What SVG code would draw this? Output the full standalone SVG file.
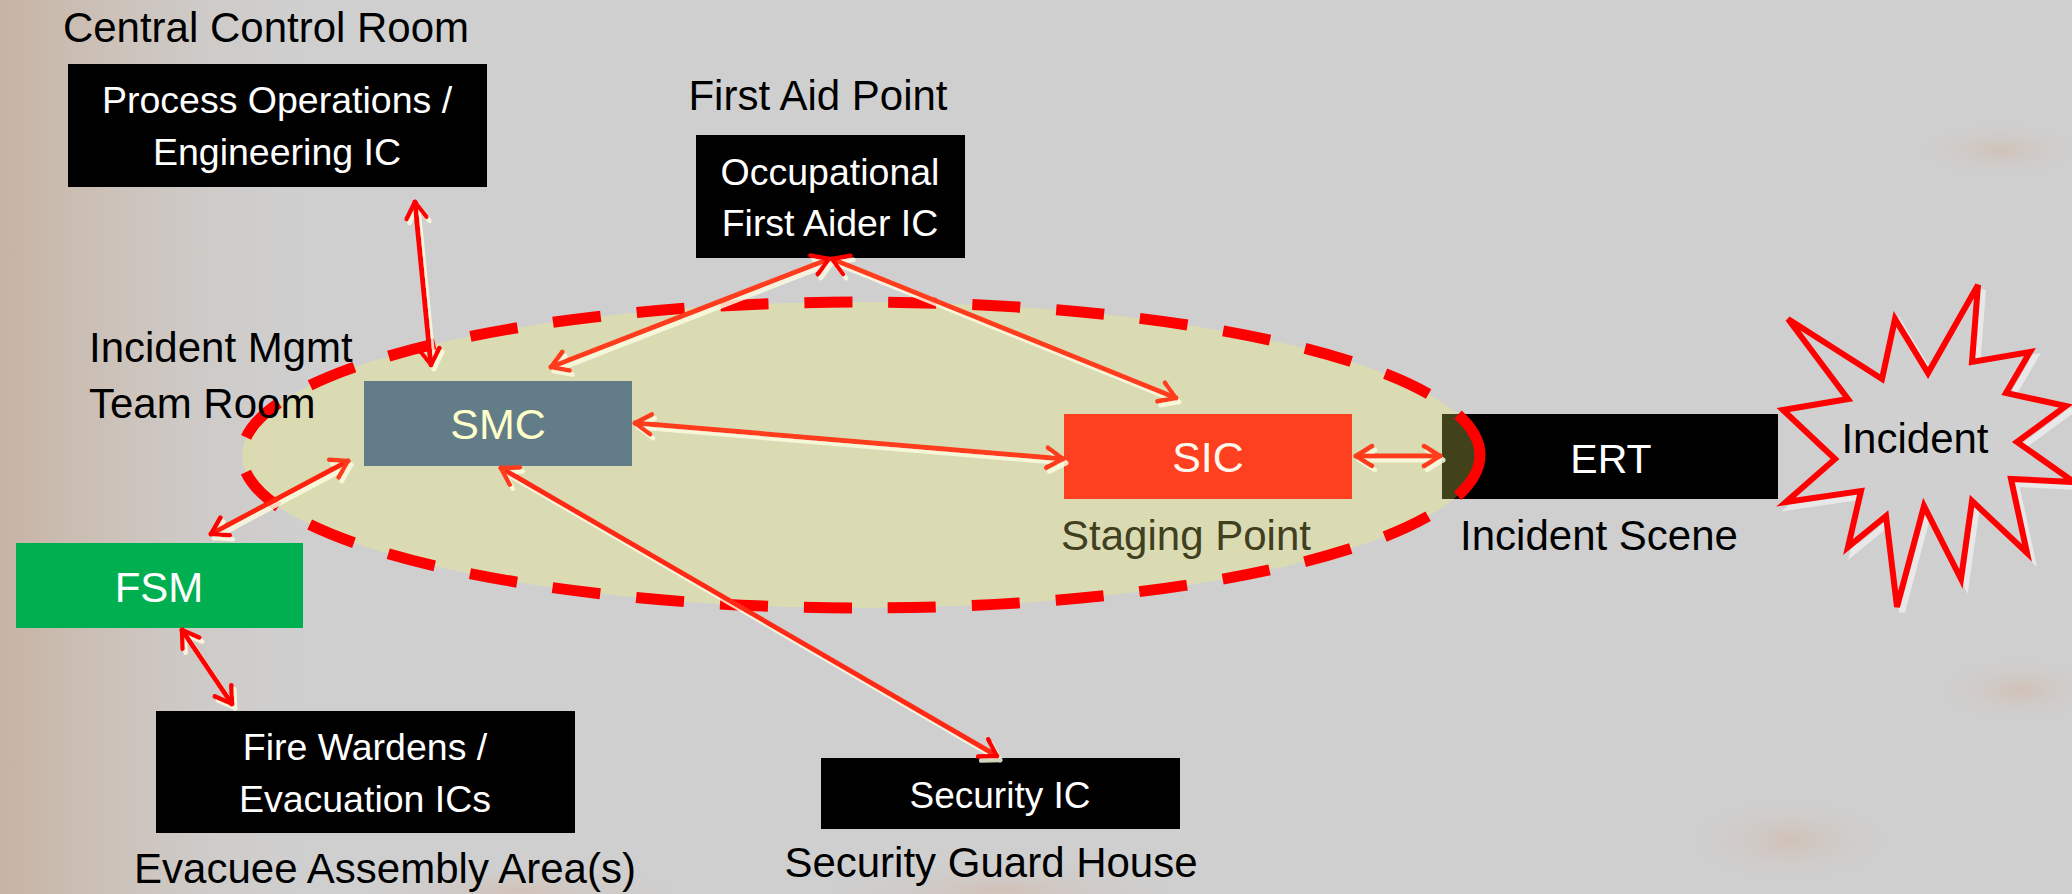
<svg xmlns="http://www.w3.org/2000/svg" width="2072" height="894" viewBox="0 0 2072 894">
<defs>
<style>
.lbl{font-family:"Liberation Sans",Arial,sans-serif;font-size:42px;fill:#000;text-anchor:middle}
.bt{font-family:"Liberation Sans",Arial,sans-serif;font-size:37.5px;fill:#fff;text-anchor:middle}
.big{font-family:"Liberation Sans",Arial,sans-serif;font-size:43px;fill:#fff;text-anchor:middle}
.con{fill:none;stroke-width:5;stroke-linecap:round}
</style>
<linearGradient id="leftFlame" x1="0" y1="0" x2="1" y2="0">
<stop offset="0" stop-color="#b8845a" stop-opacity="0.38"/>
<stop offset="0.45" stop-color="#c49a78" stop-opacity="0.18"/>
<stop offset="1" stop-color="#cfcfcf" stop-opacity="0"/>
</linearGradient>
<radialGradient id="blob" cx="0.5" cy="0.5" r="0.5">
<stop offset="0" stop-color="#d89060" stop-opacity="0.22"/>
<stop offset="1" stop-color="#cfcfcf" stop-opacity="0"/>
</radialGradient>
<marker id="ahR" viewBox="0 0 22 26" refX="19" refY="13" markerWidth="22" markerHeight="26" markerUnits="userSpaceOnUse" orient="auto-start-reverse">
<path d="M3,3 L19,13 L3,23" fill="none" stroke="#ff0000" stroke-width="4.5" stroke-linecap="round" stroke-linejoin="round"/>
</marker>
<marker id="ahO" viewBox="0 0 22 26" refX="19" refY="13" markerWidth="22" markerHeight="26" markerUnits="userSpaceOnUse" orient="auto-start-reverse">
<path d="M3,3 L19,13 L3,23" fill="none" stroke="#ff3c1c" stroke-width="4.5" stroke-linecap="round" stroke-linejoin="round"/>
</marker>
<filter id="sh" x="-10%" y="-10%" width="120%" height="120%">
<feDropShadow dx="3" dy="4" stdDeviation="0.6" flood-color="#fafae0" flood-opacity="0.85"/>
</filter>
</defs>

<g id="background">
<rect x="0" y="0" width="2072" height="894" fill="#cfcfcf"/>
<rect x="0" y="0" width="330" height="894" fill="url(#leftFlame)"/>
<ellipse cx="2000" cy="150" rx="90" ry="30" fill="url(#blob)"/>
<ellipse cx="2020" cy="690" rx="90" ry="35" fill="url(#blob)"/>
<ellipse cx="1790" cy="840" rx="110" ry="45" fill="url(#blob)"/>
<ellipse cx="1000" cy="890" rx="200" ry="30" fill="url(#blob)"/>
<ellipse cx="520" cy="890" rx="180" ry="25" fill="url(#blob)"/>
</g>

<g id="node-ert">
<rect x="1442" y="414" width="336" height="85" fill="#000"/>
<text class="big" x="1611" y="473" style="font-size:41px">ERT</text>
</g>

<g id="zone-ellipse">
<ellipse cx="861" cy="455" rx="619" ry="153" fill="#ffff66" fill-opacity="0.26" stroke="#ff0000" stroke-width="11" stroke-dasharray="48 36"/>
</g>

<g id="label-ccr"><text class="lbl" x="266" y="42">Central Control Room</text></g>
<g id="node-proc">
<rect x="68" y="64" width="419" height="123" fill="#000"/>
<text class="bt" x="277" y="113">Process Operations /</text>
<text class="bt" x="277" y="165">Engineering IC</text>
</g>

<g id="label-fap"><text class="lbl" x="818" y="110">First Aid Point</text></g>
<g id="node-occ">
<rect x="696" y="135" width="269" height="123" fill="#000"/>
<text class="bt" x="830" y="185">Occupational</text>
<text class="bt" x="830" y="236">First Aider IC</text>
</g>

<g id="label-imt">
<text class="lbl" x="89" y="362" style="text-anchor:start">Incident Mgmt</text>
<text class="lbl" x="89" y="418" style="text-anchor:start">Team Room</text>
</g>

<g id="node-smc">
<rect x="364" y="381" width="268" height="85" fill="#637d88"/>
<text class="big" x="498" y="439" style="fill:#ffffcc">SMC</text>
</g>

<g id="node-sic">
<rect x="1064" y="414" width="288" height="85" fill="#ff4020"/>
<text class="big" x="1208" y="472" style="fill:#fff8ee">SIC</text>
<text class="lbl" x="1186" y="550" style="fill:#404020">Staging Point</text>
</g>

<g id="label-scene"><text class="lbl" x="1599" y="550">Incident Scene</text></g>

<g id="node-incident">
<polygon points="1788,319 1882,379 1895,319 1928,373 1978,285 1972,362 2030,352 2006,393 2066,406 2017,442 2074,482 2011,479 2027,553 1972,501 1961,579 1924,506 1897,607 1886,516 1848,547 1861,491 1786,502 1835,459 1783,410 1848,399" transform="translate(5,5)" fill="none" stroke="#e8e8e8" stroke-width="6" stroke-linejoin="miter"/>
<polygon points="1788,319 1882,379 1895,319 1928,373 1978,285 1972,362 2030,352 2006,393 2066,406 2017,442 2074,482 2011,479 2027,553 1972,501 1961,579 1924,506 1897,607 1886,516 1848,547 1861,491 1786,502 1835,459 1783,410 1848,399" fill="#d0d0d0" stroke="#ff0000" stroke-width="6" stroke-linejoin="miter"/>
<text class="lbl" x="1915" y="453">Incident</text>
</g>

<g id="node-fsm">
<rect x="16" y="543" width="287" height="85" fill="#00b050"/>
<text class="big" x="159" y="602" style="font-size:42px">FSM</text>
</g>

<g id="node-fw">
<rect x="156" y="711" width="419" height="122" fill="#000"/>
<text class="bt" x="365" y="760">Fire Wardens /</text>
<text class="bt" x="365" y="812">Evacuation ICs</text>
</g>
<g id="label-eaa"><text class="lbl" x="385" y="883">Evacuee Assembly Area(s)</text></g>

<g id="node-sec">
<rect x="821" y="758" width="359" height="71" fill="#000"/>
<text class="bt" x="1000" y="808" style="font-size:37px">Security IC</text>
</g>
<g id="label-sgh"><text class="lbl" x="991" y="877">Security Guard House</text></g>

<g id="connectors" filter="url(#sh)">
<line class="con" x1="415" y1="202" x2="431" y2="365" stroke="#ff0000" marker-start="url(#ahR)" marker-end="url(#ahR)"/>
<line class="con" x1="829" y1="259" x2="551" y2="367" stroke="#ff3c1c" marker-start="url(#ahR)" marker-end="url(#ahO)"/>
<line class="con" x1="832" y1="259" x2="1176" y2="398" stroke="#ff3c1c" marker-start="url(#ahR)" marker-end="url(#ahO)"/>
<line class="con" x1="635" y1="423" x2="1063" y2="459" stroke="#ff3c1c" marker-start="url(#ahO)" marker-end="url(#ahO)"/>
<line class="con" x1="1356" y1="456" x2="1440" y2="456" stroke="#ff3c1c" marker-start="url(#ahO)" marker-end="url(#ahO)"/>
<line class="con" x1="211" y1="534" x2="348" y2="461" stroke="#ff2010" marker-start="url(#ahR)" marker-end="url(#ahO)"/>
<line class="con" x1="182" y1="630" x2="232" y2="704" stroke="#ff0000" marker-start="url(#ahR)" marker-end="url(#ahR)"/>
<line class="con" x1="501" y1="468" x2="997" y2="756" stroke="#ff2a14" marker-start="url(#ahO)" marker-end="url(#ahR)"/>
</g>
</svg>
